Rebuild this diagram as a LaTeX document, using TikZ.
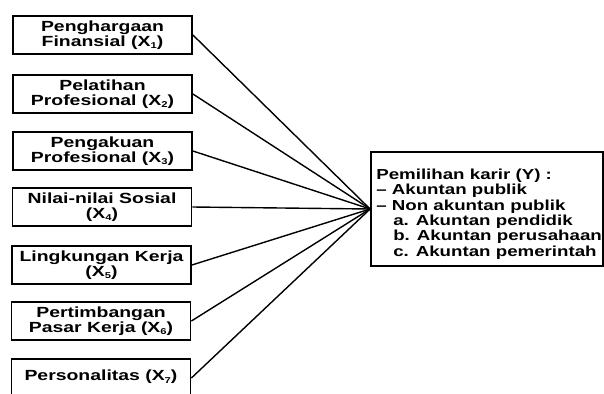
\documentclass[tikz,border=0pt]{standalone}
\usepackage{fontspec}
\setmainfont{Liberation Sans}[FakeStretch=1.32]
\newfontfamily\yfont{Liberation Sans}[FakeStretch=1.29]
\newcommand\xs[1]{\raisebox{-2.5pt}{\fontsize{8.5}{8.5}\selectfont #1}}
\begin{document}
\begin{tikzpicture}[x=1pt,y=-1pt,
  txt/.style={font=\fontsize{14.7}{15.3}\selectfont\bfseries},
  xbox/.style={txt,draw,line width=1.8pt,minimum width=179,minimum height=38,inner sep=0pt,align=center},
  ybox/.style={draw,line width=1.8pt,minimum width=232,minimum height=114,inner sep=0pt},
  ytext/.style={font=\yfont\fontsize{14.5}{15.3}\selectfont\bfseries,inner sep=0pt,align=left,anchor=west},
  link/.style={line width=1.4pt}]
\useasboundingbox (0,0) rectangle (604,393);
\clip (0,0) rectangle (604,393);
\node[xbox] (x1) at (102.5,35) {Penghargaan\\Finansial (X\xs{1})};
\node[xbox] (x2) at (102.5,94) {Pelatihan\\Profesional (X\xs{2})};
\node[xbox] (x3) at (102.5,151) {Pengakuan\\Profesional (X\xs{3})};
\node[xbox] (x4) at (102,207) {Nilai-nilai Sosial\\(X\xs{4})};
\node[xbox] (x5) at (101.5,265) {Lingkungan Kerja\\(X\xs{5})};
\node[xbox] (x6) at (101,321) {Pertimbangan\\Pasar Kerja (X\xs{6})};
\node[xbox] (x7) at (101,378) {\raisebox{5pt}{Personalitas (X\xs{7})}};
\node[ybox] (y) at (487,209) {};
\node[ytext] (yt) at ([xshift=6pt,yshift=-5pt]y.west) {Pemilihan karir (Y) :\\
– Akuntan publik\\
– Non akuntan publik\\
\hspace*{17pt}a. Akuntan pendidik\\
\hspace*{17pt}b. Akuntan perusahaan\\
\hspace*{17pt}c. Akuntan pemerintah};
\foreach \i in {1,...,7}{\draw[link] (x\i.east) -- (y.west);}
\end{tikzpicture}
\end{document}
